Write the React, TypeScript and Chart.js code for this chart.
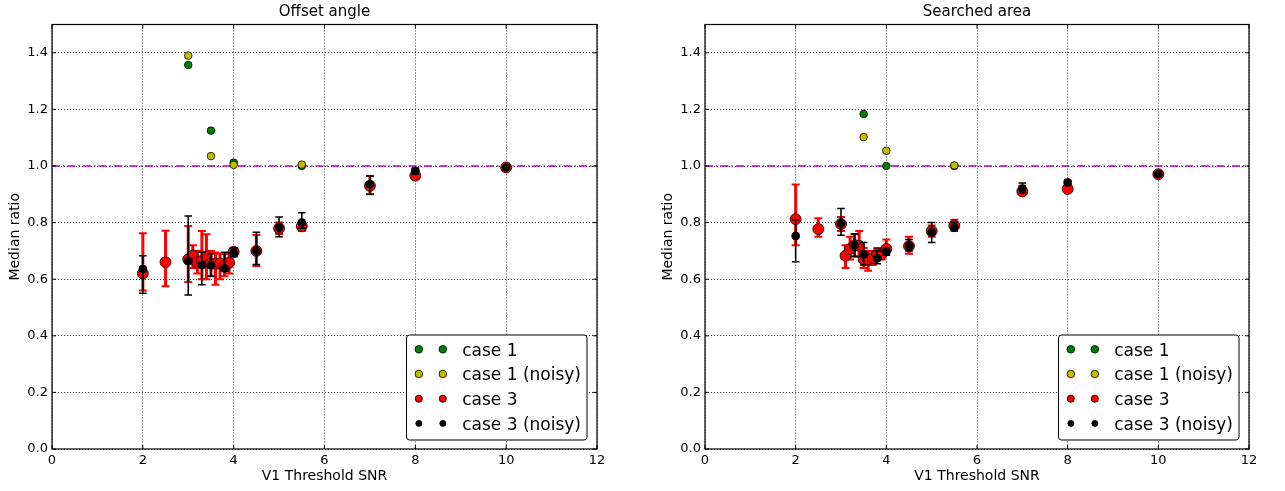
import React, { useEffect, useRef } from "react";
import { Chart, registerables } from "chart.js";

Chart.register(...registerables);

const FONT = '"DejaVu Sans", "Liberation Sans", sans-serif';

// ---------- axes ----------
const X_TICKS = [0, 2, 4, 6, 8, 10, 12];
const Y_TICKS = [0, 0.2, 0.4, 0.6, 0.8, 1.0, 1.2, 1.4];
const X_MIN = 0;
const X_MAX = 12;
const Y_MIN = 0;
const Y_MAX = 1.5;
const REF_LINE = 1.0;
const X_LABEL = "V1 Threshold SNR";
const Y_LABEL = "Median ratio";
const TITLES = ["Offset angle", "Searched area"];
const SERIES_LABELS = ["case 1", "case 1 (noisy)", "case 3", "case 3 (noisy)"];

// ---------- Offset angle ----------
const OA_C1_X = [3, 3.5, 4, 5.5];
const OA_C1_Y = [1.357, 1.125, 1.012, 1.0];
const OA_C1N_X = [3, 3.5, 4, 5.5];
const OA_C1N_Y = [1.39, 1.035, 1.004, 1.005];

const OA_C3_X = [2, 2.5, 3, 3.1, 3.2, 3.3, 3.4, 3.5, 3.6, 3.7, 3.8, 3.9, 4, 4.5, 5, 5.5, 7, 8, 10];
const OA_C3_Y = [0.62, 0.66, 0.67, 0.683, 0.66, 0.665, 0.68, 0.655, 0.654, 0.656, 0.645, 0.658, 0.697, 0.7, 0.78, 0.787, 0.93, 0.966, 0.995];
const OA_C3_LO = [0.56, 0.575, 0.59, 0.64, 0.62, 0.6, 0.6, 0.61, 0.58, 0.6, 0.61, 0.62, 0.68, 0.647, 0.76, 0.77, 0.9, 0.955, 0.99];
const OA_C3_HI = [0.762, 0.771, 0.788, 0.72, 0.7, 0.77, 0.759, 0.7, 0.694, 0.69, 0.69, 0.69, 0.71, 0.756, 0.8, 0.8, 0.965, 0.98, 1.0];

const OA_C3N_X = [2, 3, 3.3, 3.5, 3.8, 4, 4.5, 5, 5.5, 7, 8, 10];
const OA_C3N_Y = [0.636, 0.664, 0.65, 0.649, 0.638, 0.693, 0.7, 0.783, 0.8, 0.935, 0.983, 0.995];
const OA_C3N_LO = [0.55, 0.544, 0.58, 0.61, 0.628, 0.68, 0.652, 0.75, 0.78, 0.9, 0.972, 0.99];
const OA_C3N_HI = [0.683, 0.823, 0.695, 0.69, 0.695, 0.71, 0.766, 0.82, 0.835, 0.965, 0.992, 1.0];

// ---------- Searched area ----------
const SA_C1_X = [3.5, 4, 5.5];
const SA_C1_Y = [1.184, 1.0, 1.0];
const SA_C1N_X = [3.5, 4, 5.5];
const SA_C1N_Y = [1.102, 1.054, 1.002];

const SA_C3_X = [2, 2.5, 3, 3.1, 3.2, 3.3, 3.4, 3.5, 3.6, 3.7, 3.8, 3.9, 4, 4.5, 5, 5.5, 7, 8, 10];
const SA_C3_Y = [0.812, 0.777, 0.795, 0.683, 0.707, 0.72, 0.718, 0.67, 0.67, 0.675, 0.69, 0.689, 0.707, 0.717, 0.77, 0.79, 0.91, 0.919, 0.971];
const SA_C3_LO = [0.72, 0.75, 0.77, 0.64, 0.67, 0.68, 0.68, 0.64, 0.63, 0.65, 0.67, 0.67, 0.69, 0.69, 0.75, 0.78, 0.9, 0.91, 0.965];
const SA_C3_HI = [0.935, 0.815, 0.82, 0.72, 0.75, 0.76, 0.77, 0.71, 0.7, 0.7, 0.71, 0.71, 0.74, 0.75, 0.79, 0.81, 0.93, 0.93, 0.98];

const SA_C3N_X = [2, 3, 3.3, 3.5, 3.8, 4, 4.5, 5, 5.5, 7, 8, 10];
const SA_C3N_Y = [0.753, 0.797, 0.72, 0.688, 0.674, 0.698, 0.717, 0.766, 0.782, 0.92, 0.942, 0.971];
const SA_C3N_LO = [0.662, 0.755, 0.68, 0.65, 0.655, 0.685, 0.7, 0.73, 0.77, 0.905, 0.935, 0.965];
const SA_C3N_HI = [0.81, 0.85, 0.76, 0.73, 0.7, 0.71, 0.74, 0.8, 0.8, 0.94, 0.95, 0.98];

// ---------- styles ----------
const GREEN = "#008000";
const YELLOW = "#bfbf00";
const RED = "#ff0000";
const BLACK = "#000000";
const MAGENTA = "#bf00bf";

const toPts = (xs: number[], ys: number[]) => xs.map((x, i) => ({ x, y: ys[i] }));

function makeDatasets(
  c1x: number[], c1y: number[],
  c1nx: number[], c1ny: number[],
  c3x: number[], c3y: number[], c3lo: number[], c3hi: number[],
  c3nx: number[], c3ny: number[], c3nlo: number[], c3nhi: number[]
) {
  const base = { showLine: false, pointBorderColor: "#000", borderColor: "#000", pointBorderWidth: 0.8, borderWidth: 0.8 };
  return [
    { ...base, label: SERIES_LABELS[0], data: toPts(c1x, c1y), backgroundColor: GREEN, pointBackgroundColor: GREEN, pointRadius: 3.8, order: 4, legendRadius: 3.8 },
    { ...base, label: SERIES_LABELS[1], data: toPts(c1nx, c1ny), backgroundColor: YELLOW, pointBackgroundColor: YELLOW, pointRadius: 3.8, order: 3, legendRadius: 3.8 },
    {
      ...base, label: SERIES_LABELS[2], data: toPts(c3x, c3y), backgroundColor: RED, pointBackgroundColor: RED, pointRadius: 5.5, order: 2, legendRadius: 3.6,
      errLo: c3lo, errHi: c3hi, errColor: RED, errWidth: 3, capHalf: 4, capWidth: 2,
    },
    {
      ...base, label: SERIES_LABELS[3], data: toPts(c3nx, c3ny), backgroundColor: BLACK, pointBackgroundColor: BLACK, pointRadius: 4, order: 1, legendRadius: 3,
      errLo: c3nlo, errHi: c3nhi, errColor: BLACK, errWidth: 1.6, capHalf: 3.8, capWidth: 1.5,
    },
  ];
}

// ---------- plugins ----------
const refLinePlugin = {
  id: "refLine",
  beforeDatasetsDraw(chart: any) {
    const { ctx, chartArea, scales } = chart;
    const y = scales.y.getPixelForValue(REF_LINE);
    ctx.save();
    ctx.strokeStyle = MAGENTA;
    ctx.lineWidth = 1.5;
    ctx.setLineDash([8, 3, 1.5, 3]);
    ctx.beginPath();
    ctx.moveTo(chartArea.left, y);
    ctx.lineTo(chartArea.right, y);
    ctx.stroke();
    ctx.restore();
  },
};

const errorBarPlugin = {
  id: "errorBars",
  beforeDatasetDraw(chart: any, args: any) {
    const ds = chart.data.datasets[args.index];
    if (!ds.errLo) return;
    const { ctx, chartArea, scales } = chart;
    ctx.save();
    ctx.beginPath();
    ctx.rect(chartArea.left, chartArea.top, chartArea.right - chartArea.left, chartArea.bottom - chartArea.top);
    ctx.clip();
    ctx.strokeStyle = ds.errColor;
    ds.data.forEach((p: any, i: number) => {
      const px = scales.x.getPixelForValue(p.x);
      const yl = scales.y.getPixelForValue(ds.errLo[i]);
      const yh = scales.y.getPixelForValue(ds.errHi[i]);
      ctx.lineWidth = ds.errWidth;
      ctx.beginPath();
      ctx.moveTo(px, yl);
      ctx.lineTo(px, yh);
      ctx.stroke();
      ctx.lineWidth = ds.capWidth;
      ctx.beginPath();
      ctx.moveTo(px - ds.capHalf, yl);
      ctx.lineTo(px + ds.capHalf, yl);
      ctx.moveTo(px - ds.capHalf, yh);
      ctx.lineTo(px + ds.capHalf, yh);
      ctx.stroke();
    });
    ctx.restore();
  },
};

const framePlugin = {
  id: "frame",
  afterDraw(chart: any) {
    const { ctx, chartArea, scales } = chart;
    const { left, right, top, bottom } = chartArea;
    ctx.save();
    ctx.strokeStyle = "#000";
    ctx.lineWidth = 1;
    ctx.setLineDash([]);
    const L = 4;
    ctx.beginPath();
    X_TICKS.forEach((v) => {
      const x = scales.x.getPixelForValue(v);
      ctx.moveTo(x, bottom);
      ctx.lineTo(x, bottom - L);
      ctx.moveTo(x, top);
      ctx.lineTo(x, top + L);
    });
    Y_TICKS.forEach((v) => {
      const y = scales.y.getPixelForValue(v);
      ctx.moveTo(left, y);
      ctx.lineTo(left + L, y);
      ctx.moveTo(right, y);
      ctx.lineTo(right - L, y);
    });
    ctx.stroke();
    ctx.lineWidth = 1.2;
    ctx.strokeRect(left, top, right - left, bottom - top);
    ctx.restore();
  },
};

const legendPlugin = {
  id: "mplLegend",
  afterDraw(chart: any) {
    const { ctx, chartArea } = chart;
    const dsets = chart.data.datasets;
    const fontPx = 17;
    ctx.save();
    ctx.font = `${fontPx}px ${FONT}`;
    let maxW = 0;
    dsets.forEach((d: any) => (maxW = Math.max(maxW, ctx.measureText(d.label).width)));
    const w = 55.7 + maxW + 6;
    const h = 105;
    const x0 = chartArea.right - 10 - w;
    const y0 = chartArea.bottom - 9 - h;
    const r = 3;
    ctx.beginPath();
    ctx.moveTo(x0 + r, y0);
    ctx.lineTo(x0 + w - r, y0);
    ctx.arcTo(x0 + w, y0, x0 + w, y0 + r, r);
    ctx.lineTo(x0 + w, y0 + h - r);
    ctx.arcTo(x0 + w, y0 + h, x0 + w - r, y0 + h, r);
    ctx.lineTo(x0 + r, y0 + h);
    ctx.arcTo(x0, y0 + h, x0, y0 + h - r, r);
    ctx.lineTo(x0, y0 + r);
    ctx.arcTo(x0, y0, x0 + r, y0, r);
    ctx.closePath();
    ctx.fillStyle = "#fff";
    ctx.fill();
    ctx.strokeStyle = "#000";
    ctx.lineWidth = 1;
    ctx.stroke();
    dsets.forEach((d: any, i: number) => {
      const cy = y0 + 14.3 + 24.7 * i;
      [12.3, 36.3].forEach((dx) => {
        ctx.beginPath();
        ctx.arc(x0 + dx, cy, d.legendRadius, 0, Math.PI * 2);
        ctx.fillStyle = d.pointBackgroundColor;
        ctx.fill();
        ctx.lineWidth = 0.8;
        ctx.strokeStyle = "#000";
        ctx.stroke();
      });
      ctx.fillStyle = "#000";
      ctx.textBaseline = "alphabetic";
      ctx.textAlign = "left";
      ctx.fillText(d.label, x0 + 55.7, cy + 0.365 * fontPx);
    });
    ctx.restore();
  },
};

function makeConfig(title: string, datasets: any[], padLeft: number, padRight: number): any {
  const tickFont = { family: FONT, size: 13 };
  const labelFont = { family: FONT, size: 14, lineHeight: 1.2 };
  return {
    type: "scatter",
    data: { datasets },
    options: {
      animation: false,
      responsive: false,
      devicePixelRatio: 1,
      events: [],
      layout: { padding: { left: padLeft, right: padRight, top: 0, bottom: 0 } },
      plugins: {
        legend: { display: false },
        tooltip: { enabled: false },
        title: {
          display: true,
          text: title,
          fullSize: false,
          color: "#000",
          font: { family: FONT, size: 15, weight: "normal", lineHeight: 1.2 },
          padding: { top: 3, bottom: 3.5 },
        },
      },
      scales: {
        x: {
          type: "linear",
          min: X_MIN,
          max: X_MAX,
          afterFit(s: any) {
            s.height = 42;
          },
          afterBuildTicks(s: any) {
            s.ticks = X_TICKS.map((v) => ({ value: v }));
          },
          ticks: { padding: 4, color: "#000", font: tickFont, maxRotation: 0, autoSkip: false, callback: (v: any) => String(v) },
          grid: { color: "#333", lineWidth: 1, drawTicks: false },
          border: { display: false, dash: [1, 2] },
          title: { display: true, text: X_LABEL, color: "#000", font: labelFont, padding: { top: 0, bottom: 6.6 } },
        },
        y: {
          type: "linear",
          min: Y_MIN,
          max: Y_MAX,
          afterFit(s: any) {
            s.width = 52;
          },
          afterBuildTicks(s: any) {
            s.ticks = Y_TICKS.map((v) => ({ value: v }));
          },
          ticks: { padding: 4, color: "#000", font: tickFont, autoSkip: false, callback: (v: any) => Number(v).toFixed(1) },
          grid: { color: "#333", lineWidth: 1, drawTicks: false },
          border: { display: false, dash: [1, 2] },
          title: { display: true, text: Y_LABEL, color: "#000", font: labelFont, padding: { top: 6.6, bottom: 0 } },
        },
      },
    },
    plugins: [refLinePlugin, errorBarPlugin, framePlugin, legendPlugin],
  };
}

function Panel({ left, width, build }: { left: number; width: number; build: () => any }) {
  const ref = useRef<HTMLCanvasElement>(null);
  useEffect(() => {
    const chart = new Chart(ref.current as HTMLCanvasElement, build());
    return () => chart.destroy();
  }, []);
  return (
    <canvas
      ref={ref}
      width={width}
      height={491}
      style={{ position: "absolute", left, top: 0, width, height: 491, display: "block" }}
    />
  );
}

export default function App() {
  return (
    <div style={{ position: "absolute", left: 0, top: 0, width: 1285, height: 491, background: "#fff", overflow: "hidden" }}>
      <Panel
        left={0}
        width={642}
        build={() =>
          makeConfig(
            TITLES[0],
            makeDatasets(OA_C1_X, OA_C1_Y, OA_C1N_X, OA_C1N_Y, OA_C3_X, OA_C3_Y, OA_C3_LO, OA_C3_HI, OA_C3N_X, OA_C3N_Y, OA_C3N_LO, OA_C3N_HI),
            0,
            45
          )
        }
      />
      <Panel
        left={642}
        width={643}
        build={() =>
          makeConfig(
            TITLES[1],
            makeDatasets(SA_C1_X, SA_C1_Y, SA_C1N_X, SA_C1N_Y, SA_C3_X, SA_C3_Y, SA_C3_LO, SA_C3_HI, SA_C3N_X, SA_C3N_Y, SA_C3N_LO, SA_C3N_HI),
            11,
            36
          )
        }
      />
    </div>
  );
}
